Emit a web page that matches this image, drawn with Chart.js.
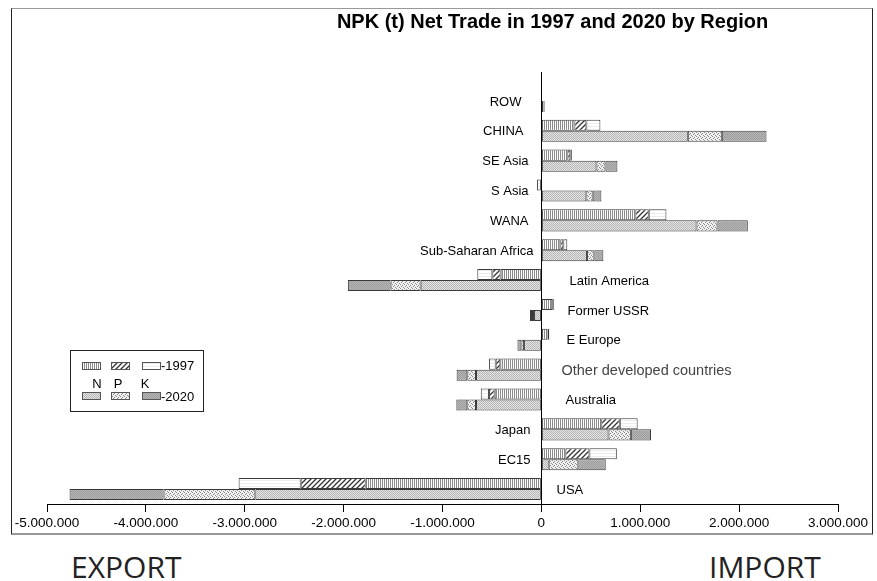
<!DOCTYPE html>
<html>
<head>
<meta charset="utf-8">
<script src="https://cdn.jsdelivr.net/npm/chart.js@4"></script>
<style>
  body { margin: 0; background: #fff; width: 877px; height: 581px; position: relative; overflow: hidden; }
  #frame { position: absolute; left: 11px; top: 8px; width: 860px; height: 524px;
           border-left: 1px solid #222; border-right: 1px solid #222;
           border-top: 1px solid #999; border-bottom: 2px solid #999; }
  #wrap { position: absolute; left: 0; top: 0; width: 877px; height: 540px; }
  .side { position: absolute; top: 546px; font-family: "Open Sans", sans-serif; font-size: 30px; color: #222; }
</style>
</head>
<body>
<div id="frame"></div>
<div id="wrap"><canvas id="npk" width="877" height="540"></canvas></div>
<div class="side" style="left:71px">EXPORT</div>
<div class="side" style="left:709px">IMPORT</div>
<script>
// regions, top to bottom
const regions = ['ROW', 'CHINA', 'SE Asia', 'S Asia', 'WANA', 'Sub-Saharan Africa', 'Latin America',
  'Former USSR', 'E Europe', 'Other developed countries', 'Australia', 'Japan', 'EC15', 'USA'];

// net trade in tonnes (negative = export)
const n1997 = [3000, 334000, 263000, 0, 951000, 192000, -412000, 110000, 60000, -415000, -472000, 606000, 243000, -1777000];
const p1997 = [0, 121000, 30000, 0, 135000, 30000, -84000, 10000, 5000, -47000, -57000, 187000, 243000, -657000];
const k1997 = [2000, 142000, 15000, -45000, 179000, 40000, -152000, 10000, 15000, -67000, -84000, 181000, 277000, -628000];
const n2020 = [20000, 1481000, 557000, 455000, 1569000, 462000, -1221000, -75000, -175000, -661000, -661000, 679000, 74000, -2893000];
const p2020 = [5000, 344000, 91000, 64000, 212000, 74000, -304000, -20000, -27000, -88000, -88000, 226000, 300000, -928000];
const k2020 = [8000, 452000, 121000, 88000, 307000, 91000, -432000, -20000, -40000, -108000, -111000, 204000, 277000, -951000];

const xTicks = [-5000000, -4000000, -3000000, -2000000, -1000000, 0, 1000000, 2000000, 3000000];

// gap between the zero line and each region label
const labelGap = [20, 18, 13, 13, 13, 8, 28, 26, 25, 20, 24, 11, 11, 15];

// small helper to build fill patterns
function makePattern(size, draw) {
  const c = document.createElement('canvas');
  c.width = c.height = size;
  const g = c.getContext('2d');
  draw(g, size);
  return g.createPattern(c, 'repeat');
}

const patN97 = makePattern(2, g => {
  g.fillStyle = '#fff'; g.fillRect(0, 0, 2, 2);
  g.fillStyle = '#8a8a8a'; g.fillRect(0, 0, 1, 2);
});
const patP97 = makePattern(5, (g, s) => {
  g.fillStyle = '#fff'; g.fillRect(0, 0, s, s);
  g.strokeStyle = '#333'; g.lineWidth = 1.3;
  g.beginPath();
  g.moveTo(0, s); g.lineTo(s, 0);
  g.moveTo(-1, 1); g.lineTo(1, -1);
  g.moveTo(s - 1, s + 1); g.lineTo(s + 1, s - 1);
  g.stroke();
});
const patK97 = makePattern(3, g => {
  g.fillStyle = '#fff'; g.fillRect(0, 0, 3, 3);
  g.fillStyle = '#ececec'; g.fillRect(0, 0, 3, 1);
});
const patN20 = makePattern(2, g => {
  g.fillStyle = '#e6e6e6'; g.fillRect(0, 0, 2, 2);
  g.fillStyle = '#b4b4b4'; g.fillRect(0, 0, 1, 1); g.fillRect(1, 1, 1, 1);
});
const patP20 = makePattern(4, g => {
  g.fillStyle = '#f0f0f0'; g.fillRect(0, 0, 4, 4);
  g.fillStyle = '#8a8a8a';
  g.fillRect(0, 0, 1, 1); g.fillRect(2, 1, 1, 1); g.fillRect(1, 2, 1, 1); g.fillRect(3, 3, 1, 1);
});
const patK20 = makePattern(2, g => {
  g.fillStyle = '#b6b6b6'; g.fillRect(0, 0, 2, 2);
  g.fillStyle = '#9c9c9c'; g.fillRect(0, 0, 1, 1); g.fillRect(1, 1, 1, 1);
});

function fmt(v) {
  const s = Math.abs(v).toString().replace(/\B(?=(\d{3})+(?!\d))/g, '.');
  return (v < 0 ? '-' : '') + s;
}

function ds(label, data, stack, bg) {
  return { label, data, stack, backgroundColor: bg, borderColor: '#3a3a3a', borderWidth: 1, borderSkipped: false };
}

// zero line, region labels, title and the legend box
const decor = {
  id: 'decor',
  afterDatasetsDraw(chart) {
    const ctx = chart.ctx;
    const x = chart.scales.x, y = chart.scales.y;
    const x0 = Math.round(x.getPixelForValue(0)) + 0.5;
    const area = chart.chartArea;
    ctx.save();
    ctx.strokeStyle = '#000'; ctx.lineWidth = 1;
    ctx.beginPath(); ctx.moveTo(x0, area.top - 14); ctx.lineTo(x0, area.bottom); ctx.stroke();

    ctx.textBaseline = 'middle';
    regions.forEach((r, i) => {
      // label goes on the side away from the 2020 bar
      const total = n2020[i] + p2020[i] + k2020[i];
      const yy = y.getPixelForValue(i) + 1;
      if (r === 'Other developed countries') {
        ctx.font = '14.5px "Liberation Sans", Arial, sans-serif';
        ctx.fillStyle = '#444';
      } else {
        ctx.font = '13px "Liberation Sans", Arial, sans-serif';
        ctx.fillStyle = '#000';
      }
      if (total >= 0) {
        ctx.textAlign = 'right'; ctx.fillText(r, x0 - labelGap[i], yy);
      } else {
        ctx.textAlign = 'left'; ctx.fillText(r, x0 + labelGap[i], yy);
      }
    });

    ctx.font = 'bold 20px "Liberation Sans", Arial, sans-serif';
    ctx.fillStyle = '#000';
    ctx.textAlign = 'center';
    ctx.fillText('NPK (t) Net Trade in 1997 and 2020 by Region', x0 + 11, 22);

    // legend
    ctx.strokeStyle = '#222';
    ctx.strokeRect(70.5, 350.5, 133, 61);
    const sw = [[patN97, patP97, patK97], [patN20, patP20, patK20]];
    const sx = [82, 111, 142];
    [362, 392].forEach((ty, row) => {
      sx.forEach((lx, c) => {
        ctx.fillStyle = sw[row][c];
        ctx.fillRect(lx, ty, 19, 8);
        ctx.strokeStyle = '#555';
        ctx.strokeRect(lx + 0.5, ty + 0.5, 18, 7);
      });
    });
    ctx.font = '13px "Liberation Sans", Arial, sans-serif';
    ctx.fillStyle = '#000';
    ctx.textAlign = 'left';
    ctx.fillText('-1997', 161, 366);
    ctx.fillText('-2020', 161, 397);
    ctx.textAlign = 'center';
    ctx.fillText('N', 97, 384);
    ctx.fillText('P', 118, 384);
    ctx.fillText('K', 145, 384);
    ctx.restore();
  }
};

new Chart(document.getElementById('npk'), {
  type: 'bar',
  data: {
    labels: regions,
    datasets: [
      ds('N 1997', n1997, '1997', patN97),
      ds('P 1997', p1997, '1997', patP97),
      ds('K 1997', k1997, '1997', patK97),
      ds('N 2020', n2020, '2020', patN20),
      ds('P 2020', p2020, '2020', patP20),
      ds('K 2020', k2020, '2020', patK20)
    ]
  },
  options: {
    indexAxis: 'y',
    responsive: false,
    animation: false,
    categoryPercentage: 0.74,
    barPercentage: 1,
    layout: { padding: { top: 86, left: 47, right: 39, bottom: 8 } },
    plugins: { legend: { display: false }, tooltip: { enabled: false } },
    scales: {
      x: {
        stacked: true,
        min: -5000000,
        max: 3000000,
        afterBuildTicks: s => { s.ticks = xTicks.map(v => ({ value: v })); },
        afterFit: s => { s.height = 28; },
        border: { display: true, color: '#000', width: 1 },
        grid: { drawOnChartArea: false, drawTicks: true, tickLength: 8, color: '#000' },
        ticks: {
          color: '#000', padding: 3, maxRotation: 0,
          font: { family: '"Liberation Sans", Arial, sans-serif', size: 13.5 },
          callback: v => fmt(v)
        }
      },
      y: { stacked: true, display: false }
    }
  },
  plugins: [decor]
});
</script>
</body>
</html>
